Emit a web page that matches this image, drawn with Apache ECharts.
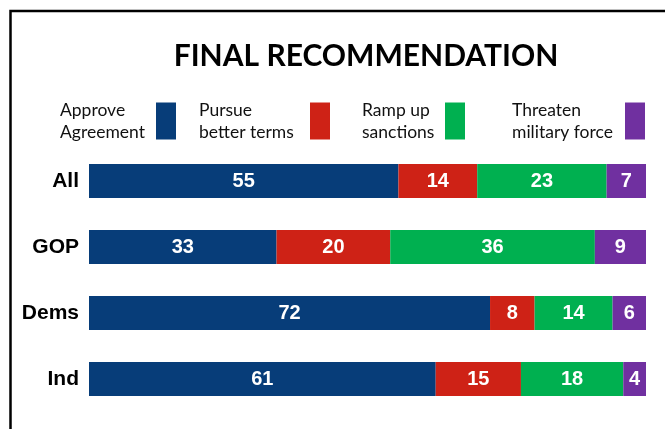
<!DOCTYPE html>
<html>
<head>
<meta charset="utf-8">
<script src="https://cdn.jsdelivr.net/npm/echarts@6/dist/echarts.min.js"></script>
<style>
html,body{margin:0;padding:0;background:#fff;}
#chart{width:665px;height:429px;}
</style>
</head>
<body>
<div id="chart"></div>
<script>
var categories = ['All', 'GOP', 'Dems', 'Ind'];
var seriesNames = ['Approve\nAgreement', 'Pursue\nbetter terms', 'Ramp up\nsanctions', 'Threaten\nmilitary force'];
var approve = [55, 33, 72, 61];
var pursue = [14, 20, 8, 15];
var rampUp = [23, 36, 14, 18];
var threaten = [7, 9, 6, 4];

var colors = ['#073D79', '#CE2216', '#00B050', '#7030A0'];
var allSeries = [approve, pursue, rampUp, threaten];

var totals = categories.map(function (c, i) {
  return allSeries.reduce(function (s, arr) { return s + arr[i]; }, 0);
});

var legendLefts = [60, 199, 362, 512];
var legendTextWidths = [91, 106, 78, 108];

var chart = echarts.init(document.getElementById('chart'), null, {renderer: 'canvas'});

var legends = seriesNames.map(function (name, k) {
  return {
    data: [name],
    left: legendLefts[k],
    top: 99,
    align: 'right',
    orient: 'horizontal',
    padding: 0,
    icon: 'rect',
    itemWidth: 20,
    itemHeight: 37,
    selectedMode: false,
    formatter: function (n) {
      return n.split('\n').map(function (l) { return '{a|' + l + '}'; }).join('\n');
    },
    textStyle: {
      fontFamily: 'Lato',
      fontSize: 17.5,
      lineHeight: 22,
      color: '#111',
      rich: {
        a: {
          width: legendTextWidths[k],
          align: 'left',
          fontFamily: 'Lato',
          fontSize: 17.5,
          lineHeight: 22,
          color: '#111'
        }
      }
    }
  };
});

var option = {
  animation: false,
  backgroundColor: '#fff',
  color: colors,
  title: {
    text: 'FINAL RECOMMENDATION',
    left: 366,
    textAlign: 'center',
    top: 41,
    padding: 0,
    textStyle: {
      fontFamily: 'Lato',
      fontWeight: 'bold',
      fontSize: 30,
      color: '#000'
    }
  },
  legend: legends,
  grid: {left: 89, right: 19, top: 148, bottom: 17, containLabel: false},
  xAxis: {
    type: 'value', min: 0, max: 100, show: false
  },
  yAxis: {
    type: 'category',
    data: categories,
    inverse: true,
    axisLine: {show: false},
    axisTick: {show: false},
    axisLabel: {
      margin: 10,
      fontFamily: 'Liberation Sans',
      fontWeight: 'bold',
      fontSize: 21,
      color: '#000'
    }
  },
  graphic: [{
    type: 'rect',
    shape: {x: 10.5, y: 11, width: 800, height: 600},
    style: {fill: 'none', stroke: '#000', lineWidth: 2.5},
    silent: true
  }],
  series: allSeries.map(function (arr, k) {
    return {
      name: seriesNames[k],
      type: 'bar',
      stack: 'total',
      barWidth: 34,
      itemStyle: {color: colors[k]},
      label: {
        show: true,
        position: 'inside',
        fontFamily: 'Liberation Sans',
        fontWeight: 'bold',
        fontSize: 20,
        color: '#fff',
        formatter: function (p) { return p.data.raw; }
      },
      data: arr.map(function (v, i) {
        return {value: v / totals[i] * 100, raw: v};
      })
    };
  })
};

chart.setOption(option);
</script>
</body>
</html>
